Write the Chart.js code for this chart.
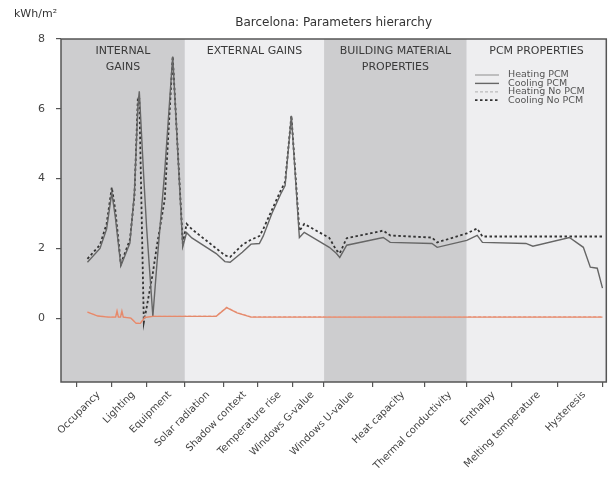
<!DOCTYPE html>
<html>
<head>
<meta charset="utf-8">
<script src="https://cdn.jsdelivr.net/npm/chart.js@4/dist/chart.umd.min.js"></script>
<style>
  html, body { margin: 0; padding: 0; background: #fff; }
</style>
</head>
<body>
<canvas id="chart" width="613" height="484"></canvas>
<script>
// parameters on the x axis and where each one starts/ends (sample index)
const parameters = ['Occupancy', 'Lighting', 'Equipment', 'Solar radiation', 'Shadow context',
  'Temperature rise', 'Windows G-value', 'Windows U-value', 'Heat capacity',
  'Thermal conductivity', 'Enthalpy', 'Melting temperature', 'Hysteresis'];
const boundaries = [0, 10, 20, 31, 42, 52, 62, 71, 85, 100, 112, 125, 138, 151];

// parameter groups (shaded bands)
const groupNames = [['INTERNAL', 'GAINS'], ['EXTERNAL GAINS'], ['BUILDING MATERIAL', 'PROPERTIES'], ['PCM PROPERTIES']];
const groupEnds = [3, 7, 10, 13]; // index into boundaries where each group ends

// cooling series
const coolX = [3, 6.6, 8.5, 10, 11, 12.6, 15.2, 16.5, 17.5, 17.9, 19.2, 20, 21.8, 23, 25.2, 27.5,
  30.4, 31.5, 33, 40, 42.5, 44, 47.5, 50, 52.4, 53.5, 56, 58.5, 59.8, 61.6, 63.9, 65.3,
  72.5, 74.5, 75.5, 77.5, 88, 90, 102, 103.5, 112, 115, 116.5, 129, 131, 141.5, 145.5,
  147.5, 149.5, 151];
const coolingPCM = [1.6, 2.0, 2.55, 3.6, 2.9, 1.5, 2.15, 3.6, 6.1, 6.5, 4.0, 2.6, 0.05, 1.6, 4.2, 7.5,
  2.05, 2.45, 2.3, 1.85, 1.62, 1.6, 1.89, 2.12, 2.14, 2.35, 3.0, 3.55, 3.8, 5.8, 2.31, 2.46,
  2.03, 1.86, 1.74, 2.09, 2.31, 2.17, 2.14, 2.03, 2.23, 2.37, 2.17, 2.14, 2.06, 2.31, 2.03,
  1.46, 1.43, 0.86];
const coolingNoPCM = [1.7, 2.1, 2.7, 3.75, 3.1, 1.55, 2.25, 3.5, 6.35, 6.3, -0.12, 0.3, 1.3, 2.1, 3.4, 7.5,
  2.15, 2.7, 2.55, 2.0, 1.8, 1.75, 2.1, 2.25, 2.35, 2.55, 3.1, 3.65, 3.9, 5.8, 2.5, 2.7,
  2.3, 1.95, 1.86, 2.29, 2.51, 2.37, 2.31, 2.17, 2.43, 2.57, 2.34, 2.34, 2.34, 2.34, 2.34,
  2.34, 2.34, 2.34];

// heating series
const heatX = [3, 6, 9, 11.1, 11.5, 11.9, 12.5, 12.9, 13.3, 15.5, 17, 18.2, 19.5, 21.8, 40, 43, 46, 50, 151];
const heatingPCM = [0.17, 0.06, 0.03, 0.03, 0.2, 0.03, 0.03, 0.2, 0.03, 0.0, -0.15, -0.15, 0.02, 0.05, 0.05, 0.3, 0.15, 0.03, 0.03];
const heatingNoPCM = [0.18, 0.07, 0.04, 0.04, 0.21, 0.04, 0.04, 0.21, 0.04, 0.01, -0.13, -0.13, 0.03, 0.06, 0.06, 0.31, 0.16, 0.04, 0.04];

const yTicks = [0, 2, 4, 6, 8];

// label ticks sit between the boundaries
const labelPos = parameters.map((p, i) => (boundaries[i] + boundaries[i + 1]) / 2 + 1.2);

const toPoints = (xs, ys) => xs.map((x, i) => ({ x: x, y: ys[i] }));

const X_MIN = -4.6, X_MAX = 152.1;
const FONT = '"DejaVu Sans", sans-serif';

const backdrop = {
  id: 'backdrop',
  beforeDatasetsDraw(chart) {
    const { ctx, chartArea: a, scales: { x } } = chart;
    const shades = ['#cdcdcf', '#eeeef0', '#cdcdcf', '#eeeef0'];
    let start = X_MIN;
    ctx.save();
    groupEnds.forEach((bi, i) => {
      const end = i === groupEnds.length - 1 ? X_MAX : boundaries[bi];
      const x0 = x.getPixelForValue(start), x1 = x.getPixelForValue(end);
      ctx.fillStyle = shades[i];
      ctx.fillRect(x0, a.top, x1 - x0, a.bottom - a.top);
      // group title
      ctx.fillStyle = '#3a3a3a';
      ctx.font = '11px ' + FONT;
      ctx.textAlign = 'center';
      ctx.textBaseline = 'middle';
      groupNames[i].forEach((line, j) => ctx.fillText(line, (x0 + x1) / 2, a.top + 12 + j * 16));
      start = end;
    });
    ctx.restore();
  },
  afterDatasetsDraw(chart) {
    const { ctx, chartArea: a } = chart;
    ctx.save();
    ctx.strokeStyle = '#555';
    ctx.lineWidth = 1.5;
    ctx.strokeRect(a.left, a.top, a.right - a.left, a.bottom - a.top);

    // legend
    ctx.font = '9.5px ' + FONT;
    ctx.textAlign = 'left';
    ctx.textBaseline = 'middle';
    chart.data.datasets.forEach((ds, i) => {
      const y = a.top + 36 + i * 8.4;
      ctx.beginPath();
      ctx.strokeStyle = ds.legendColor;
      ctx.lineWidth = ds.borderWidth;
      ctx.setLineDash(ds.borderDash || []);
      ctx.moveTo(a.left + 414, y);
      ctx.lineTo(a.left + 438, y);
      ctx.stroke();
      ctx.setLineDash([]);
      ctx.fillStyle = '#555';
      ctx.fillText(ds.label, a.left + 447, y);
    });

    // title and unit
    ctx.fillStyle = '#333';
    ctx.font = '12px ' + FONT;
    ctx.textAlign = 'center';
    ctx.fillText('Barcelona: Parameters hierarchy', (a.left + a.right) / 2, 23);
    ctx.font = '11px ' + FONT;
    ctx.textAlign = 'left';
    ctx.fillText('kWh/m²', 14, 14);
    ctx.restore();
  }
};

new Chart('chart', {
  type: 'line',
  data: {
    datasets: [
      { label: 'Heating PCM', data: toPoints(heatX, heatingPCM), borderColor: '#e48a6c', legendColor: '#aaa', borderWidth: 1.4 },
      { label: 'Cooling PCM', data: toPoints(coolX, coolingPCM), borderColor: '#666', legendColor: '#666', borderWidth: 1.4 },
      { label: 'Heating No PCM', data: toPoints(heatX, heatingNoPCM), borderColor: '#f3b2a4', legendColor: '#bbb', borderWidth: 1.3, borderDash: [3, 2] },
      { label: 'Cooling No PCM', data: toPoints(coolX, coolingNoPCM), borderColor: '#333', legendColor: '#333', borderWidth: 1.8, borderDash: [2.5, 2.5] }
    ]
  },
  options: {
    responsive: false,
    animation: false,
    layout: { padding: { top: 39, right: 5, left: 0, bottom: 0 } },
    elements: { point: { radius: 0 }, line: { tension: 0, fill: false } },
    plugins: { legend: { display: false }, tooltip: { enabled: false } },
    scales: {
      x: {
        type: 'linear', min: X_MIN, max: X_MAX,
        afterBuildTicks: s => { s.ticks = boundaries.concat(labelPos).sort((a, b) => a - b).map(v => ({ value: v })); },
        afterFit: s => { s.height = 102; },
        border: { display: false },
        grid: {
          drawOnChartArea: false, tickLength: 5, lineWidth: 1.2,
          tickColor: c => boundaries.includes(c.tick.value) ? '#555' : 'rgba(0,0,0,0)'
        },
        ticks: {
          autoSkip: false, minRotation: 45, maxRotation: 45, padding: 2,
          color: '#444', font: { family: FONT, size: 10 },
          callback: v => { const i = labelPos.indexOf(v); return i >= 0 ? parameters[i] : ''; }
        }
      },
      y: {
        min: -1.83, max: 8,
        afterBuildTicks: s => { s.ticks = yTicks.map(v => ({ value: v })); },
        afterFit: s => { s.width = 61; },
        border: { display: false },
        grid: { drawOnChartArea: false, tickLength: 5, tickColor: '#555', lineWidth: 1.2 },
        ticks: { padding: 11, color: '#444', font: { family: FONT, size: 11 } }
      }
    }
  },
  plugins: [backdrop]
});
</script>
</body>
</html>
